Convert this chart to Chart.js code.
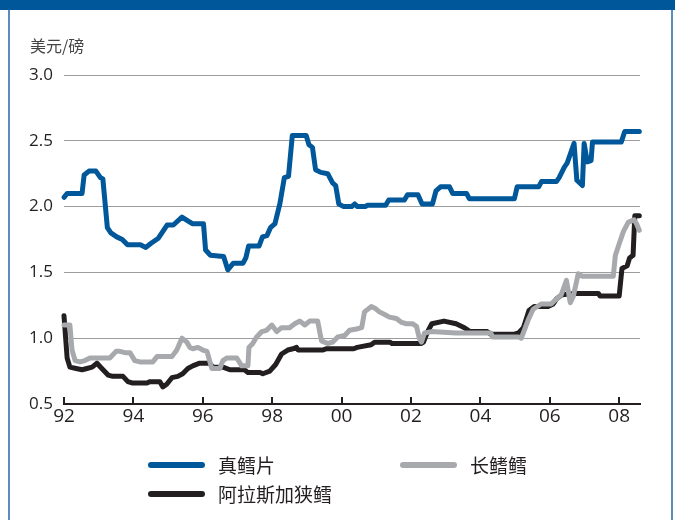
<!DOCTYPE html>
<html><head><meta charset="utf-8">
<script src="https://cdn.jsdelivr.net/npm/chart.js@4"></script>
<style>
html,body{margin:0;padding:0;background:#fff;}
#wrap{position:relative;width:675px;height:520px;overflow:hidden;font-family:"Noto Sans CJK SC",sans-serif;}
#topbar{position:absolute;left:0;top:0;width:675px;height:10px;background:#00589b;}
.side{position:absolute;top:10px;bottom:0;width:2px;background:#5a8cc0;}
#unit{position:absolute;left:30px;top:34px;font-size:16px;color:#444;line-height:22px;}
#chart{position:absolute;left:0;top:0;}
.lg{position:absolute;display:flex;align-items:center;font-size:19px;color:#231f20;line-height:24px;height:24px;}
.lg i{display:inline-block;width:57px;height:6px;border-radius:3px;margin-right:13px;}
</style></head>
<body><div id="wrap">
<canvas id="chart" width="675" height="520"></canvas>
<div id="topbar"></div>
<div class="side" style="left:8px"></div>
<div class="side" style="left:671px"></div>
<div id="unit">美元/磅</div>
<div id="legend"></div>
</div>
<script>
// 真鳕片 (cod fillet)
const codYears = [1992.00,1992.09,1992.52,1992.58,1992.72,1992.92,1993.05,1993.12,1993.25,1993.35,1993.52,1993.68,1993.83,1994.20,1994.36,1994.50,1994.72,1994.97,1995.15,1995.40,1995.58,1995.70,1996.02,1996.08,1996.22,1996.60,1996.72,1996.88,1997.16,1997.24,1997.32,1997.62,1997.72,1997.85,1997.95,1998.08,1998.22,1998.35,1998.47,1998.58,1998.98,1999.06,1999.16,1999.25,1999.40,1999.60,1999.74,1999.83,1999.92,2000.06,2000.29,2000.38,2000.46,2000.68,2000.74,2001.27,2001.36,2001.81,2001.90,2002.20,2002.32,2002.62,2002.72,2002.85,2003.11,2003.20,2003.60,2003.68,2004.98,2005.06,2005.68,2005.76,2006.19,2006.27,2006.42,2006.50,2006.70,2006.78,2006.94,2006.99,2007.08,2007.19,2007.23,2008.06,2008.16,2008.58];
const codValues = [2.07,2.10,2.10,2.24,2.27,2.27,2.22,2.21,1.84,1.80,1.77,1.75,1.71,1.71,1.69,1.72,1.76,1.86,1.86,1.92,1.89,1.87,1.87,1.67,1.63,1.62,1.52,1.57,1.57,1.61,1.70,1.70,1.77,1.78,1.84,1.87,2.02,2.22,2.23,2.54,2.54,2.47,2.45,2.28,2.26,2.25,2.18,2.16,2.02,2.00,2.00,2.02,2.00,2.00,2.01,2.01,2.05,2.05,2.09,2.09,2.02,2.02,2.12,2.15,2.15,2.10,2.10,2.06,2.06,2.15,2.15,2.19,2.19,2.22,2.30,2.33,2.48,2.20,2.16,2.48,2.34,2.35,2.49,2.49,2.57,2.57];

// 长鳍鳕
const lingYears = [1992.00,1992.17,1992.23,1992.32,1992.46,1992.60,1992.75,1993.32,1993.50,1993.61,1993.76,1993.90,1994.04,1994.19,1994.56,1994.68,1995.11,1995.25,1995.40,1995.54,1995.63,1995.71,1995.86,1996.00,1996.12,1996.26,1996.49,1996.58,1996.69,1996.98,1997.12,1997.30,1997.33,1997.44,1997.55,1997.70,1997.84,1997.99,1998.13,1998.27,1998.50,1998.65,1998.79,1998.94,1999.08,1999.31,1999.42,1999.60,1999.74,1999.89,2000.09,2000.23,2000.43,2000.58,2000.66,2000.86,2000.95,2001.09,2001.24,2001.38,2001.58,2001.73,2001.87,2002.04,2002.16,2002.24,2002.30,2002.39,2002.59,2003.30,2004.30,2004.35,2005.10,2005.18,2005.38,2005.52,2005.75,2006.04,2006.16,2006.33,2006.48,2006.59,2006.68,2006.82,2006.94,2007.83,2007.89,2008.03,2008.12,2008.26,2008.43,2008.50,2008.58];
const lingValues = [1.10,1.10,0.91,0.83,0.82,0.83,0.85,0.85,0.90,0.90,0.89,0.89,0.83,0.82,0.82,0.86,0.86,0.91,1.00,0.97,0.93,0.92,0.93,0.91,0.90,0.77,0.77,0.83,0.85,0.85,0.79,0.79,0.93,0.96,1.01,1.05,1.06,1.10,1.05,1.08,1.08,1.11,1.13,1.10,1.13,1.13,0.98,0.96,0.97,1.01,1.02,1.06,1.07,1.08,1.20,1.24,1.23,1.20,1.18,1.16,1.15,1.12,1.11,1.11,1.09,1.00,0.97,1.04,1.05,1.04,1.04,1.01,1.01,1.00,1.14,1.22,1.26,1.26,1.29,1.33,1.44,1.27,1.32,1.49,1.47,1.47,1.63,1.74,1.81,1.88,1.90,1.87,1.82];

// 阿拉斯加狭鳕 (Alaska pollock)
const pollockYears = [1992.00,1992.09,1992.17,1992.35,1992.52,1992.66,1992.81,1992.95,1993.09,1993.27,1993.41,1993.70,1993.84,1993.96,1994.39,1994.48,1994.76,1994.85,1994.96,1995.11,1995.28,1995.42,1995.57,1995.71,1995.91,1996.20,1996.29,1996.58,1996.78,1997.20,1997.30,1997.65,1997.73,1997.93,1998.10,1998.27,1998.45,1998.60,1998.70,1998.75,1999.45,1999.57,2000.35,2000.45,2000.85,2000.95,2001.40,2001.45,2002.30,2002.36,2002.48,2002.60,2002.95,2003.30,2003.54,2003.70,2004.20,2004.30,2004.98,2005.10,2005.24,2005.40,2005.55,2005.95,2006.10,2006.20,2006.35,2006.70,2007.40,2007.45,2008.00,2008.08,2008.23,2008.30,2008.40,2008.45,2008.58];
const pollockValues = [1.17,0.85,0.78,0.77,0.76,0.77,0.78,0.81,0.77,0.72,0.71,0.71,0.67,0.66,0.66,0.67,0.67,0.63,0.65,0.70,0.71,0.73,0.77,0.79,0.81,0.81,0.78,0.78,0.76,0.76,0.74,0.74,0.73,0.75,0.80,0.88,0.91,0.92,0.93,0.91,0.91,0.92,0.92,0.93,0.95,0.97,0.97,0.96,0.96,0.97,1.05,1.11,1.13,1.11,1.08,1.05,1.05,1.03,1.03,1.04,1.08,1.21,1.24,1.24,1.26,1.30,1.33,1.34,1.34,1.32,1.32,1.53,1.55,1.61,1.63,1.93,1.93];

const seriesNames = ['真鳕片', '长鳍鳕', '阿拉斯加狭鳕'];
const seriesColors = ['#00589b', '#a7a9ac', '#231f20'];
const xTickYears = [1992,1994,1996,1998,2000,2002,2004,2006,2008];
const xTickLabels = ['92','94','96','98','00','02','04','06','08'];
const yTickValues = [0.5,1.0,1.5,2.0,2.5,3.0];
const yTickLabels = ['0.5','1.0','1.5','2.0','2.5','3.0'];

function pts(xs, ys){ return xs.map((x,i)=>({x:x, y:ys[i]})); }

const seriesData = [pts(codYears,codValues), pts(lingYears,lingValues), pts(pollockYears,pollockValues)];

const upTicks = {
  id:'upTicks',
  afterDraw(chart){
    const xs = chart.scales.x, ctx = chart.ctx, y0 = chart.chartArea.bottom;
    ctx.save();
    ctx.strokeStyle = '#231f20';
    ctx.lineWidth = 2;
    xs.ticks.forEach(t=>{
      const px = Math.round(xs.getPixelForValue(t.value));
      ctx.beginPath(); ctx.moveTo(px, y0); ctx.lineTo(px, y0-7); ctx.stroke();
    });
    ctx.restore();
  }
};

new Chart(document.getElementById('chart'), {
  type:'line',
  data:{
    datasets: seriesData.map((d,i)=>({
      label: seriesNames[i],
      data: d,
      borderColor: seriesColors[i],
      backgroundColor: seriesColors[i],
      borderWidth: 5,
      pointRadius: 0,
      tension: 0,
      borderCapStyle:'round',
      borderJoinStyle:'round',
      clip: 8
    }))
  },
  options:{
    responsive:false,
    animation:false,
    devicePixelRatio:1,
    layout:{padding:{left:10,right:35,top:75,bottom:86}},
    plugins:{legend:{display:false}, tooltip:{enabled:false}},
    scales:{
      x:{
        type:'linear',
        min:1992, max:2008.6,
        afterBuildTicks(s){ s.ticks = xTickYears.map(v=>({value:v})); },
        afterFit(s){ s.height = 30; },
        grid:{display:false, drawTicks:false},
        border:{display:true, color:'#231f20', width:2},
        ticks:{
          padding:1,
          color:'#231f20',
          font:{family:'"Open Sans"', size:19},
          maxRotation:0,
          autoSkip:false,
          callback:(v,i)=>xTickLabels[i]
        }
      },
      y:{
        min:0.5, max:3.0,
        afterBuildTicks(s){ s.ticks = yTickValues.map(v=>({value:v})); },
        afterFit(s){ s.width = 54; },
        grid:{color:'#9d9d9d', lineWidth:1, drawTicks:false},
        border:{display:false},
        ticks:{
          padding:11,
          color:'#231f20',
          font:{family:'"Open Sans"', size:17},
          autoSkip:false,
          callback:(v,i)=>yTickLabels[i]
        }
      }
    }
  },
  plugins:[upTicks]
});

// HTML legend from series arrays
const legendPos = [[148,453],[400,453],[148,482]];
const lg = document.getElementById('legend');
seriesNames.forEach((n,i)=>{
  const d = document.createElement('div');
  d.className='lg';
  d.style.left = legendPos[i][0]+'px';
  d.style.top = legendPos[i][1]+'px';
  d.innerHTML = '<i style="background:'+seriesColors[i]+'"></i><span>'+n+'</span>';
  lg.appendChild(d);
});
</script>
</body></html>
